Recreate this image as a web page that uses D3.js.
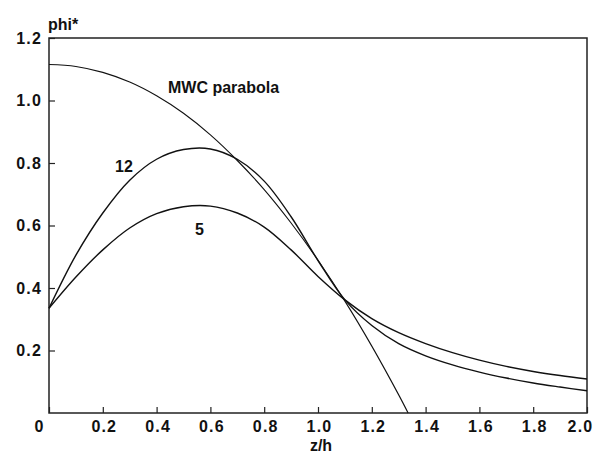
<!DOCTYPE html>
<html>
<head>
<meta charset="utf-8">
<script src="https://cdn.jsdelivr.net/npm/d3@7"></script>
<style>
  body { margin: 0; background: #fff; }
  text { font-family: "Liberation Sans", Arial, sans-serif; font-weight: bold; fill: #111; }
</style>
</head>
<body>
<svg></svg>
<script>
// The svg
let width = 594;
let height = 453;
const svg = d3.select("svg").attr("width", width).attr("height", height);

// data
const zMwc = [0, 0.1, 0.2, 0.3, 0.4, 0.5, 0.6, 0.7, 0.8, 0.9, 1.0, 1.1, 1.2, 1.3, 1.335];
const phiMwc = [1.115, 1.109, 1.090, 1.059, 1.015, 0.959, 0.890, 0.808, 0.715, 0.608, 0.489, 0.358, 0.214, 0.058, 0];

const z12 = [0, 0.1, 0.2, 0.3, 0.4, 0.5, 0.6, 0.7, 0.8, 0.9, 1.0, 1.1, 1.2, 1.3, 1.4, 1.5, 1.6, 1.7, 1.8, 1.9, 2.0];
const phi12 = [0.335, 0.505, 0.640, 0.745, 0.812, 0.843, 0.845, 0.812, 0.742, 0.628, 0.488, 0.362, 0.280, 0.222, 0.183, 0.154, 0.131, 0.112, 0.096, 0.083, 0.071];

const z5 = [0, 0.1, 0.2, 0.3, 0.4, 0.5, 0.6, 0.7, 0.8, 0.9, 1.0, 1.1, 1.2, 1.3, 1.4, 1.5, 1.6, 1.7, 1.8, 1.9, 2.0];
const phi5 = [0.335, 0.435, 0.522, 0.592, 0.638, 0.660, 0.662, 0.640, 0.595, 0.522, 0.437, 0.362, 0.302, 0.257, 0.222, 0.193, 0.169, 0.149, 0.133, 0.120, 0.109];

const xTicks = [0, 0.2, 0.4, 0.6, 0.8, 1.0, 1.2, 1.4, 1.6, 1.8, 2.0];
const yTicks = [0.2, 0.4, 0.6, 0.8, 1.0, 1.2];

// scales
let x = d3.scaleLinear().domain([0, 2]).range([49, 587]);
let y = d3.scaleLinear().domain([0, 1.2]).range([413, 38]);

// x axis, ticks pointing in
let xAxis = svg.append("g")
    .attr("transform", "translate(0," + y(0) + ")")
    .call(d3.axisBottom(x).tickValues(xTicks).tickSize(-6).tickSizeOuter(0).tickPadding(8)
        .tickFormat(function (d) { return d === 0 ? "0" : d3.format(".1f")(d); }));
xAxis.select(".domain").remove();
xAxis.selectAll("line").attr("stroke", "#222").attr("stroke-width", 1.2);
xAxis.selectAll("text").style("font-size", "16px").style("font-family", null)
    .style("letter-spacing", "1.2px")
    .attr("fill", "#111")
    .attr("dx", function (d) { return d === 0 ? -10 : (d === 2 ? -7 : 1); });

// y axis
let yAxis = svg.append("g")
    .attr("transform", "translate(" + x(0) + ",0)")
    .call(d3.axisLeft(y).tickValues(yTicks).tickSize(-6).tickSizeOuter(0).tickPadding(7)
        .tickFormat(d3.format(".1f")));
yAxis.select(".domain").remove();
yAxis.selectAll("line").attr("stroke", "#222").attr("stroke-width", 1.2);
yAxis.selectAll("text").style("font-size", "16px").style("font-family", null)
    .style("letter-spacing", "1.2px").attr("fill", "#111");

// frame
svg.append("rect")
    .attr("x", x(0)).attr("y", y(1.2))
    .attr("width", x(2) - x(0)).attr("height", y(0) - y(1.2))
    .attr("fill", "none").attr("stroke", "#222").attr("stroke-width", 1.5);

// curves
let line = d3.line()
    .x(function (d) { return x(d[0]); })
    .y(function (d) { return y(d[1]); })
    .curve(d3.curveCatmullRom);

let series = [
    { z: zMwc, phi: phiMwc, w: 1.1 },
    { z: z12, phi: phi12, w: 1.4 },
    { z: z5, phi: phi5, w: 1.4 }
];

svg.selectAll("path.curve")
    .data(series)
    .enter()
    .append("path")
    .attr("class", "curve")
    .attr("d", function (d) { return line(d.z.map(function (v, i) { return [v, d.phi[i]]; })); })
    .attr("fill", "none")
    .attr("stroke", "#111")
    .attr("stroke-width", function (d) { return d.w; });

// labels
svg.append("text").attr("x", 48).attr("y", 30).style("font-size", "16px").text("phi*");
svg.append("text").attr("x", 321).attr("y", 451).attr("text-anchor", "middle").style("font-size", "16px").text("z/h");
svg.append("text").attr("x", 168).attr("y", 93).style("font-size", "16px").text("MWC parabola");
svg.append("text").attr("x", 115).attr("y", 172).style("font-size", "16px").text("12");
svg.append("text").attr("x", 195).attr("y", 235).style("font-size", "16px").text("5");
</script>
</body>
</html>
